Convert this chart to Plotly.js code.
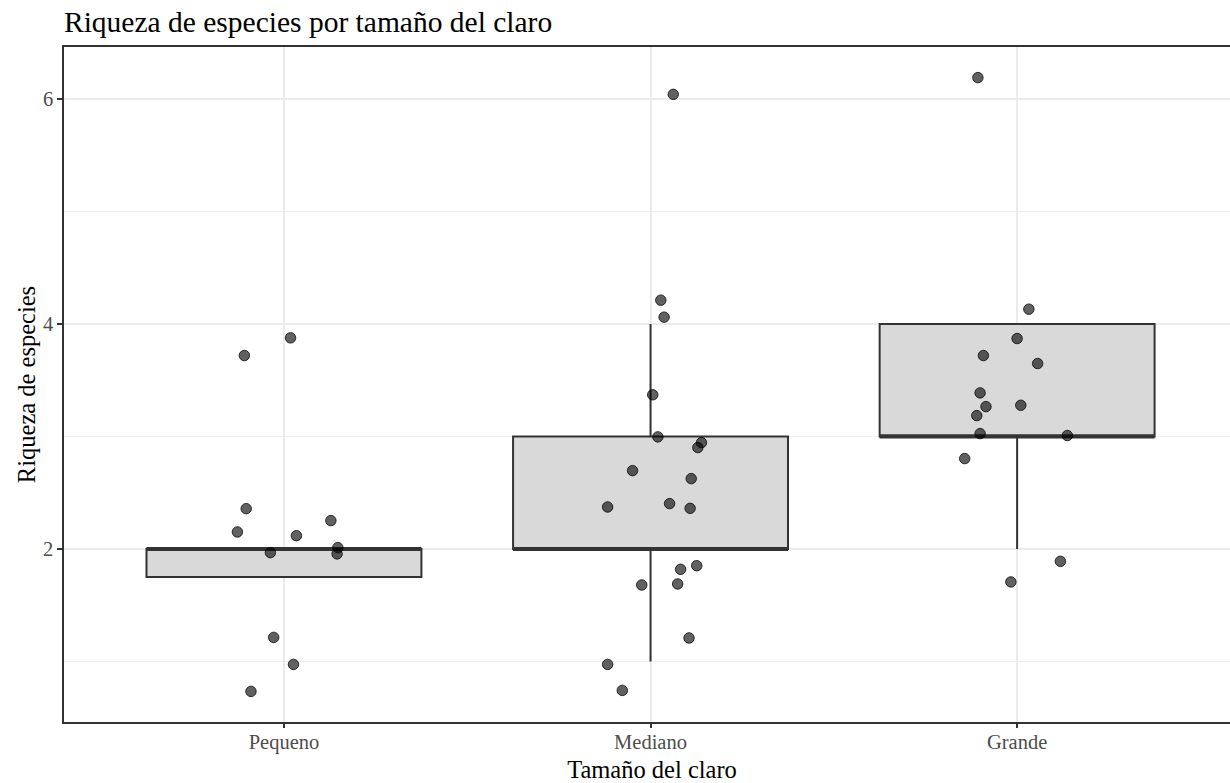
<!DOCTYPE html>
<html>
<head>
<meta charset="utf-8">
<script src="https://cdn.plot.ly/plotly-3.0.1.min.js"></script>
<style>
html, body { margin: 0; padding: 0; overflow: hidden; background: #fff; }
#chart { width: 1240px; height: 783px; }
</style>
</head>
<body>
<div id="chart"></div>
<script>
// Categories
var categories = ["Pequeno", "Mediano", "Grande"];
var catPos = [1, 2, 3];

// Box statistics per category
var q1 = [1.75, 2, 3];
var medians = [2, 2, 3];
var q3 = [2, 3, 4];
var lowerWhisker = [1.75, 1, 2];
var upperWhisker = [2, 4, 4];

// Jittered observations (x in category units, y = riqueza)
var pequenoX = [1.018, 0.892, 0.897, 0.873, 1.034, 1.128, 0.963, 1.147, 1.145, 0.972, 1.026, 0.910];
var pequenoY = [3.876, 3.719, 2.358, 2.151, 2.118, 2.252, 1.967, 2.012, 1.956, 1.214, 0.974, 0.734];

var medianoX = [2.062, 2.028, 2.037, 2.006, 2.020, 2.139, 2.129, 1.951, 2.111, 1.883, 2.052, 2.108, 2.126, 2.082, 1.976, 2.074, 2.105, 1.883, 1.923];
var medianoY = [6.040, 4.211, 4.060, 3.370, 2.996, 2.945, 2.901, 2.696, 2.625, 2.373, 2.403, 2.361, 1.851, 1.819, 1.680, 1.689, 1.209, 0.974, 0.743];

var grandeX = [2.893, 3.032, 3.000, 2.908, 3.056, 2.899, 2.915, 3.010, 2.890, 2.899, 3.137, 2.857, 3.118, 2.983];
var grandeY = [6.189, 4.131, 3.870, 3.719, 3.648, 3.387, 3.265, 3.277, 3.185, 3.025, 3.008, 2.803, 1.890, 1.707];

var boxWidth = 0.75;
var serif = "Liberation Serif, Times New Roman, serif";

var traces = [];
traces.push({
  type: "box",
  x: catPos,
  q1: q1,
  median: medians,
  q3: q3,
  lowerfence: lowerWhisker,
  upperfence: upperWhisker,
  width: boxWidth,
  boxpoints: false,
  whiskerwidth: 0,
  fillcolor: "#D9D9D9",
  line: { color: "#333333", width: 2 },
  hoverinfo: "skip",
  showlegend: false
});

// thicker median segments (ggplot fatten)
for (var i = 0; i < catPos.length; i++) {
  traces.push({
    type: "scatter",
    mode: "lines",
    x: [catPos[i] - boxWidth / 2, catPos[i] + boxWidth / 2],
    y: [medians[i], medians[i]],
    line: { color: "#333333", width: 4 },
    hoverinfo: "skip",
    showlegend: false
  });
}

var ptX = pequenoX.concat(medianoX, grandeX);
var ptY = pequenoY.concat(medianoY, grandeY);
traces.push({
  type: "scatter",
  mode: "markers",
  x: ptX,
  y: ptY,
  marker: {
    size: 10.5,
    color: "rgba(0,0,0,0.62)",
    line: { color: "rgba(0,0,0,0.75)", width: 1 }
  },
  showlegend: false
});

var layout = {
  width: 1240,
  height: 783,
  margin: { l: 64, r: 0, t: 47, b: 61 },
  paper_bgcolor: "#ffffff",
  plot_bgcolor: "#ffffff",
  font: { family: serif, color: "#000000" },
  title: {
    text: "Riqueza de especies por tamaño del claro",
    font: { family: serif, size: 29.5, color: "#000000" },
    x: 0, xref: "paper", xanchor: "left",
    y: 0.985, yref: "container", yanchor: "top"
  },
  xaxis: {
    range: [0.4, 3.608],
    tickmode: "array",
    tickvals: catPos,
    ticktext: categories,
    showgrid: true,
    gridcolor: "#EBEBEB",
    gridwidth: 1.5,
    zeroline: false,
    showline: true,
    mirror: true,
    linecolor: "#333333",
    linewidth: 1.5,
    ticks: "outside",
    ticklen: 4,
    tickwidth: 1.5,
    tickcolor: "#333333",
    ticklabelstandoff: -3,
    tickfont: { family: serif, size: 20.5, color: "#4D4D4D" },
    title: { text: "Tamaño del claro", font: { family: serif, size: 24.5, color: "#000000" }, standoff: 11 }
  },
  yaxis: {
    range: [0.462, 6.461],
    tick0: 0,
    dtick: 2,
    showgrid: true,
    gridcolor: "#EBEBEB",
    gridwidth: 1.5,
    minor: { dtick: 1, showgrid: true, gridcolor: "#EFEFEF", gridwidth: 0.8, ticks: "" },
    zeroline: false,
    showline: true,
    mirror: false,
    linecolor: "#333333",
    linewidth: 1.5,
    ticks: "outside",
    ticklen: 5,
    tickwidth: 1.5,
    tickcolor: "#333333",
    tickfont: { family: serif, size: 20.5, color: "#4D4D4D" },
    title: { text: "Riqueza de especies", font: { family: serif, size: 24.5, color: "#000000" }, standoff: 0 }
  }
};

Plotly.newPlot("chart", traces, layout, { displayModeBar: false, responsive: false });
</script>
</body>
</html>
